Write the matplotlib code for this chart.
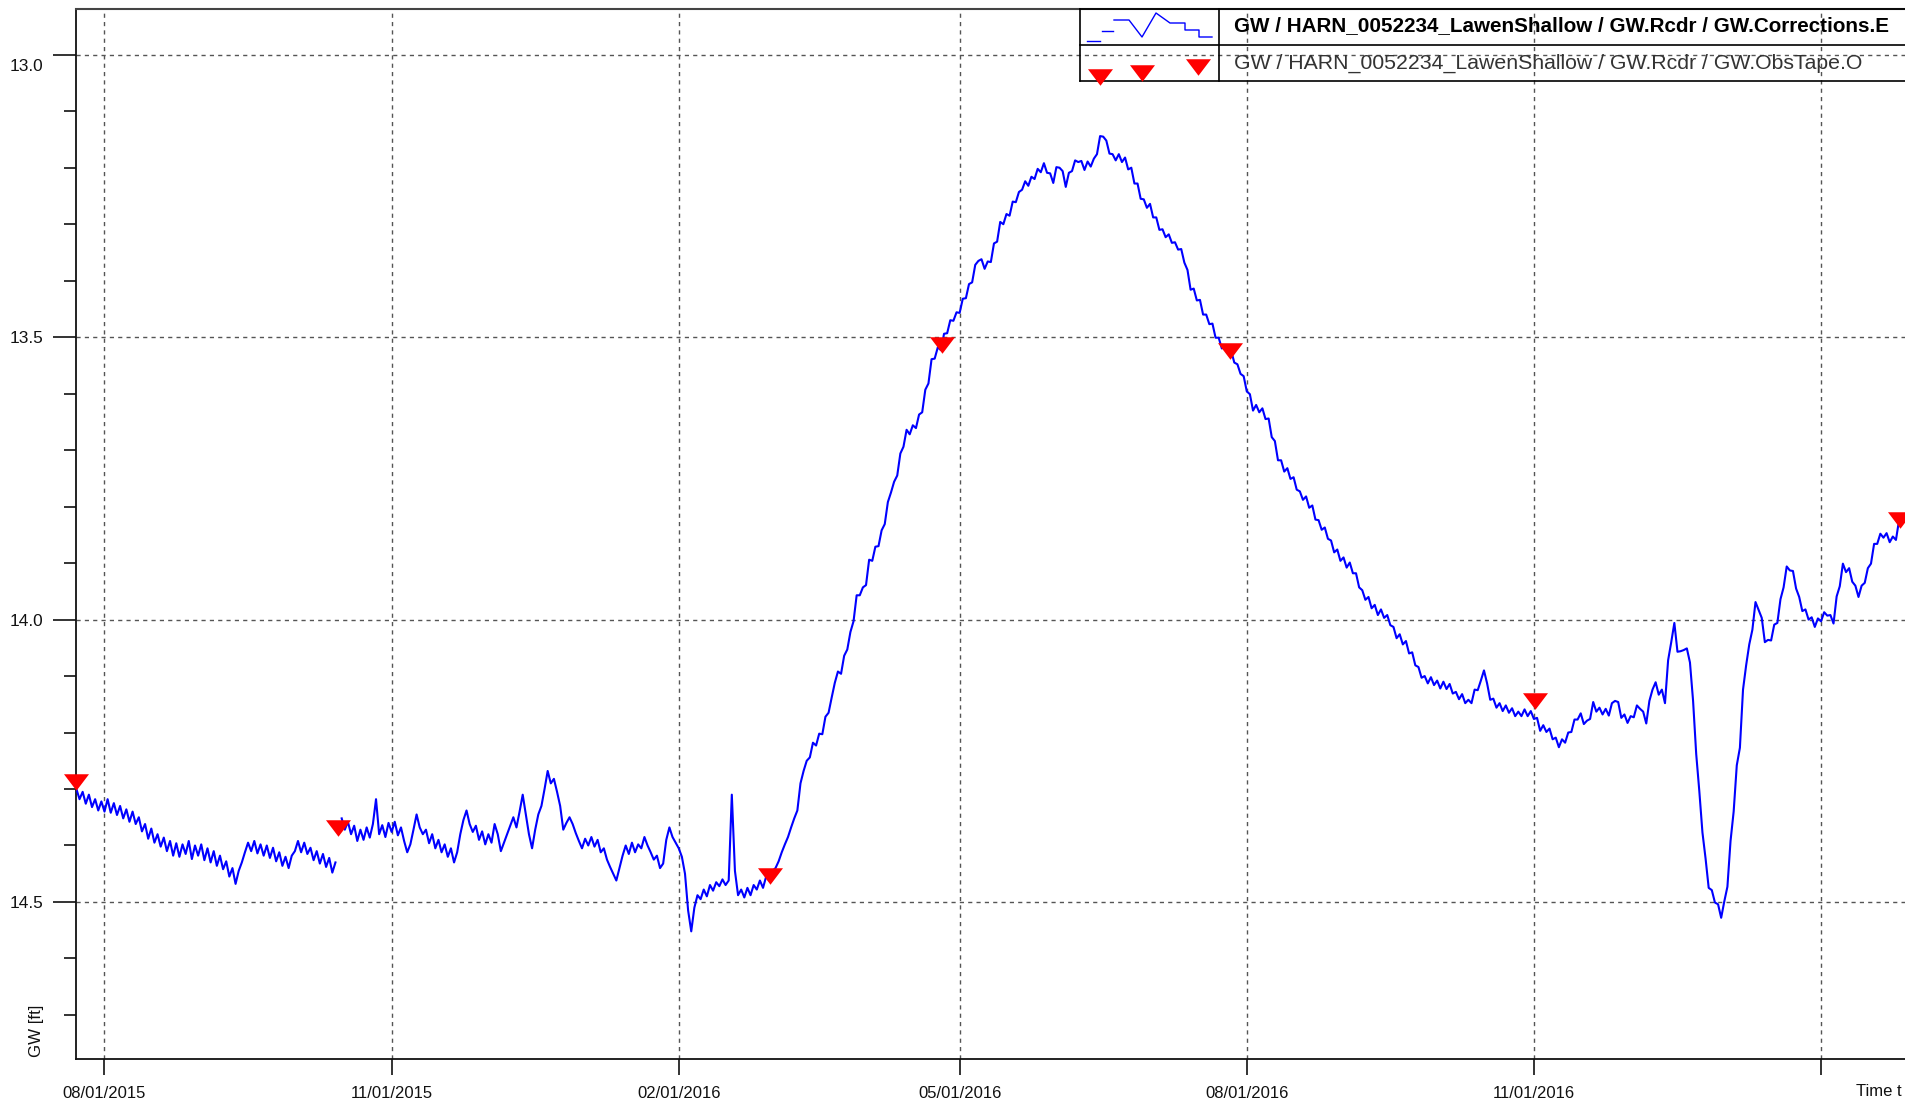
import matplotlib
matplotlib.use("Agg")
import matplotlib.pyplot as plt
import matplotlib.dates as mdates
import matplotlib.transforms as mtransforms
from matplotlib.lines import Line2D
from matplotlib.path import Path
from matplotlib.ticker import MultipleLocator
import pandas as pd

plt.rcParams['font.family'] = ['Liberation Sans', 'DejaVu Sans']

# daily recorder readings (GW, ft)
# piece 1 ends at the mid-Oct 2015 correction jump
gw_start_1 = '2015-07-23'
gw_values_1 = [
    14.300, 14.318, 14.305, 14.326, 14.310, 14.332, 14.318, 14.338, 14.322, 14.340,
    14.318, 14.342, 14.325, 14.346, 14.330, 14.352, 14.336, 14.358, 14.340, 14.362,
    14.350, 14.375, 14.362, 14.388, 14.370, 14.395, 14.380, 14.402, 14.386, 14.410,
    14.392, 14.418, 14.396, 14.420, 14.398, 14.415, 14.392, 14.424, 14.400, 14.418,
    14.398, 14.426, 14.405, 14.430, 14.410, 14.436, 14.418, 14.442, 14.428, 14.455,
    14.440, 14.468, 14.445, 14.430, 14.412, 14.395, 14.410, 14.392, 14.414, 14.398,
    14.418, 14.400, 14.422, 14.404, 14.428, 14.412, 14.436, 14.420, 14.440, 14.418,
    14.410, 14.392, 14.412, 14.395, 14.415, 14.404, 14.426, 14.410, 14.432, 14.415,
    14.438, 14.422, 14.448, 14.430,
]

gw_start_2 = '2015-10-16'
gw_values_2 = [
    14.352, 14.372, 14.358, 14.380, 14.365, 14.392, 14.372, 14.390, 14.368, 14.386,
    14.362, 14.318, 14.380, 14.364, 14.385, 14.360, 14.376, 14.358, 14.382, 14.368,
    14.392, 14.412, 14.398, 14.372, 14.345, 14.368, 14.380, 14.372, 14.396, 14.380,
    14.405, 14.390, 14.412, 14.398, 14.420, 14.405, 14.430, 14.412, 14.380, 14.355,
    14.338, 14.362, 14.376, 14.365, 14.390, 14.375, 14.398, 14.380, 14.395, 14.362,
    14.380, 14.410, 14.395, 14.380, 14.365, 14.350, 14.368, 14.340, 14.310, 14.345,
    14.380, 14.405, 14.372, 14.345, 14.330, 14.300, 14.268, 14.290, 14.282, 14.305,
    14.330, 14.372, 14.360, 14.350, 14.362, 14.378, 14.392, 14.405, 14.388, 14.400,
    14.385, 14.402, 14.390, 14.412, 14.405, 14.425, 14.438, 14.450, 14.462, 14.440,
    14.418, 14.400, 14.415, 14.395, 14.412, 14.398, 14.405, 14.385, 14.400, 14.412,
    14.425, 14.418, 14.440, 14.432, 14.390, 14.368, 14.385, 14.395, 14.405, 14.420,
    14.450, 14.515, 14.552, 14.510, 14.488, 14.495, 14.478, 14.490, 14.470, 14.480,
    14.465, 14.472, 14.460, 14.470, 14.462, 14.310, 14.445, 14.488, 14.478, 14.492,
    14.475, 14.488, 14.470, 14.478, 14.462, 14.475, 14.455, 14.462, 14.445, 14.440,
    14.428, 14.412, 14.398, 14.385, 14.368, 14.352, 14.338, 14.290, 14.268, 14.250,
    # spring 2016 rise
    14.244, 14.218, 14.223, 14.202, 14.203, 14.172, 14.165, 14.138, 14.112, 14.092,
    14.096, 14.064, 14.053, 14.022, 14.003, 13.957, 13.957, 13.943, 13.939, 13.894,
    13.896, 13.871, 13.870, 13.842, 13.831, 13.792, 13.775, 13.756, 13.745, 13.706,
    13.694, 13.664, 13.672, 13.656, 13.661, 13.637, 13.633, 13.593, 13.582, 13.539,
    13.538, 13.518, 13.523, 13.494, 13.493, 13.470, 13.471, 13.456, 13.457, 13.432,
    13.431, 13.406, 13.403, 13.372, 13.365, 13.362, 13.379, 13.366, 13.367, 13.334,
    13.331, 13.296, 13.300, 13.282, 13.285, 13.260, 13.261, 13.243, 13.239, 13.224,
    13.232, 13.216, 13.220, 13.202, 13.208, 13.192, 13.209, 13.210, 13.227, 13.199,
    13.200, 13.206, 13.234, 13.209, 13.206, 13.187, 13.190, 13.188, 13.204, 13.189,
    13.198, 13.184, 13.176, 13.144, 13.145, 13.152, 13.175, 13.176, 13.187, 13.176,
    # summer / autumn 2016 decline
    13.190, 13.182, 13.203, 13.200, 13.228, 13.228, 13.255, 13.256, 13.271, 13.264,
    13.288, 13.288, 13.310, 13.309, 13.323, 13.318, 13.333, 13.332, 13.345, 13.344,
    13.368, 13.381, 13.416, 13.414, 13.435, 13.434, 13.460, 13.460, 13.477, 13.476,
    13.501, 13.501, 13.520, 13.514, 13.527, 13.524, 13.545, 13.548, 13.565, 13.569,
    13.596, 13.601, 13.630, 13.620, 13.633, 13.626, 13.645, 13.644, 13.677, 13.684,
    13.718, 13.718, 13.738, 13.732, 13.751, 13.748, 13.770, 13.773, 13.788, 13.782,
    13.802, 13.798, 13.823, 13.824, 13.841, 13.837, 13.857, 13.860, 13.881, 13.876,
    13.896, 13.890, 13.908, 13.899, 13.918, 13.918, 13.943, 13.948, 13.965, 13.960,
    13.980, 13.974, 13.992, 13.982, 13.997, 13.992, 14.010, 14.013, 14.033, 14.026,
    14.044, 14.038, 14.060, 14.058, 14.081, 14.084, 14.103, 14.100, 14.113, 14.102,
    14.116, 14.108, 14.122, 14.110, 14.123, 14.114, 14.131, 14.128, 14.141, 14.132,
    14.148, 14.142, 14.148, 14.124, 14.125, 14.108, 14.090, 14.113, 14.142, 14.140,
    14.156, 14.148, 14.162, 14.152, 14.165, 14.157, 14.171, 14.163, 14.171, 14.159,
    14.171, 14.162, 14.176, 14.174, 14.197, 14.187, 14.199, 14.193, 14.212, 14.209,
    14.226, 14.212, 14.218, 14.200, 14.199, 14.177, 14.177, 14.166, 14.185, 14.179,
    14.176, 14.146, 14.163, 14.156, 14.168, 14.158, 14.170, 14.148, 14.144, 14.146,
    14.174, 14.168, 14.183, 14.171, 14.173, 14.152, 14.158, 14.163, 14.184, 14.144,
    # winter 2016/17 dip and recovery
    14.124, 14.111, 14.133, 14.124, 14.148, 14.072, 14.040, 14.006, 14.057, 14.056,
    14.054, 14.051, 14.076, 14.144, 14.238, 14.304, 14.377, 14.423, 14.475, 14.479,
    14.501, 14.504, 14.528, 14.499, 14.473, 14.392, 14.340, 14.258, 14.227, 14.124,
    14.081, 14.044, 14.018, 13.969, 13.983, 13.997, 14.040, 14.036, 14.037, 14.009,
    14.006, 13.964, 13.943, 13.906, 13.913, 13.914, 13.945, 13.960, 13.985, 13.982,
    14.000, 13.996, 14.013, 13.998, 14.003, 13.987, 13.993, 13.992, 14.007, 13.959,
    13.941, 13.901, 13.916, 13.909, 13.933, 13.940, 13.960, 13.940, 13.935, 13.909,
    13.901, 13.866, 13.866, 13.848, 13.855, 13.847, 13.863, 13.853, 13.859, 13.824,
    13.823, 13.824,
]

# tape observations
obs_dates = ['2015-07-23 00:00', '2015-10-14 22:00', '2016-03-01 07:00', '2016-04-25 05:00',
             '2016-07-26 17:00', '2016-11-01 10:00', '2017-02-26 07:00']
obs_values = [14.287, 14.369, 14.454, 13.513, 13.524, 14.144, 13.823]

tick_dates = ['2015-08-01', '2015-11-01', '2016-02-01', '2016-05-01',
              '2016-08-01', '2016-11-01', '2017-02-01']
tick_labels = ['08/01/2015', '11/01/2015', '02/01/2016', '05/01/2016',
               '08/01/2016', '11/01/2016', '']
y_major = [13.0, 13.5, 14.0, 14.5]
y_labels = ['13.0', '13.5', '14.0', '14.5']

series_names = ['GW / HARN_0052234_LawenShallow / GW.Rcdr / GW.Corrections.E',
                'GW / HARN_0052234_LawenShallow / GW.Rcdr / GW.ObsTape.O']

W, H = 1905, 1102


def fx(px):
    return px / W


def fy(py):
    return 1 - py / H


fig = plt.figure(figsize=(W / 100, H / 100), dpi=100)
ax = fig.add_axes([fx(76), fy(1059), (1912 - 76) / W, (1059 - 9) / H])

dates_1 = pd.date_range(gw_start_1, periods=len(gw_values_1), freq='D')
dates_2 = pd.date_range(gw_start_2, periods=len(gw_values_2), freq='D')
blue = '#0000FF'
ax.plot(dates_1, gw_values_1, color=blue, lw=1.5, zorder=3)
ax.plot(dates_2, gw_values_2, color=blue, lw=1.5, zorder=3)

# flat-topped, wide down triangle like the original
tri = Path([(-1.0, 0.66), (1.0, 0.66), (0.0, -0.66), (-1.0, 0.66)],
           [Path.MOVETO, Path.LINETO, Path.LINETO, Path.CLOSEPOLY])
ax.plot(pd.to_datetime(obs_dates, format='%Y-%m-%d %H:%M'), obs_values,
        linestyle='none', marker=tri, markersize=18, color='#FF0000',
        markeredgewidth=0, zorder=4, clip_on=False)

# axes ranges (about 3.12 px per day)
x0 = mdates.date2num(pd.Timestamp('2015-08-01')) - 9.13
ax.set_xlim(x0, x0 + (1912 - 76) / 3.121)
ax.set_ylim(14.778, 12.919)

ax.set_xticks(pd.to_datetime(tick_dates), labels=tick_labels)
ax.set_yticks(y_major, labels=y_labels)
ax.yaxis.set_minor_locator(MultipleLocator(0.1))

ax.grid(True, which='major', color='#555555', linestyle=(0, (3, 3)), linewidth=1.0)
ax.set_axisbelow(True)

ax.tick_params(axis='x', which='major', length=11.5, width=1.2, pad=8,
               labelsize=12, colors='#111111', direction='out')
ax.tick_params(axis='y', which='major', length=16.5, width=1.2, pad=7,
               labelsize=12.4, colors='#111111', direction='out')
ax.tick_params(axis='y', which='minor', length=8.5, width=1.2, colors='#111111')

for side in ['left', 'bottom']:
    ax.spines[side].set_linewidth(1.3)
    ax.spines[side].set_color('#111111')
ax.spines['top'].set_color('#444444')
ax.spines['top'].set_linewidth(1.5)
ax.spines['right'].set_visible(False)

# top label sits a bit below its tick in the original
shift = mtransforms.ScaledTranslation(0, -0.10, fig.dpi_scale_trans)
for lab in ax.get_yticklabels():
    if lab.get_text() == '13.0':
        lab.set_transform(lab.get_transform() + shift)

fig.text(fx(36), fy(1031), 'GW [ft]', rotation=90, ha='center', va='center',
         fontsize=12.2, color='#111111')
fig.text(fx(1902), fy(1092), 'Time t', ha='right', va='center',
         fontsize=12, color='#111111')

# legend table in the top right corner
box = dict(color='black', lw=1.2, transform=fig.transFigure)
for yy in [9, 45, 81]:
    fig.add_artist(Line2D([fx(1080), fx(1905)], [fy(yy), fy(yy)], **box))
for xx in [1080, 1219]:
    fig.add_artist(Line2D([fx(xx), fx(xx)], [fy(9), fy(81)], **box))

glyph = [
    [(1087, 41), (1100, 41)],
    [(1102, 31), (1113, 31)],
    [(1114, 20), (1129, 20), (1142, 37), (1156, 13), (1170, 23), (1185, 23),
     (1185, 30), (1199, 30), (1199, 37), (1212, 37)],
]
for piece in glyph:
    fig.add_artist(Line2D([fx(p[0]) for p in piece], [fy(p[1]) for p in piece],
                          color=blue, lw=1.0, transform=fig.transFigure))
fig.add_artist(Line2D([fx(1100), fx(1142), fx(1198)], [fy(77), fy(72.5), fy(66.5)],
                      linestyle='none', marker=tri, markersize=18, color='#FF0000',
                      markeredgewidth=0, transform=fig.transFigure))

fig.text(fx(1234), fy(26), series_names[0], ha='left', va='center',
         fontsize=14.9, fontweight='bold', color='black')
fig.text(fx(1234), fy(63), series_names[1], ha='left', va='center',
         fontsize=15.3, color='#333333')

fig.savefig('out.png', dpi=100)
